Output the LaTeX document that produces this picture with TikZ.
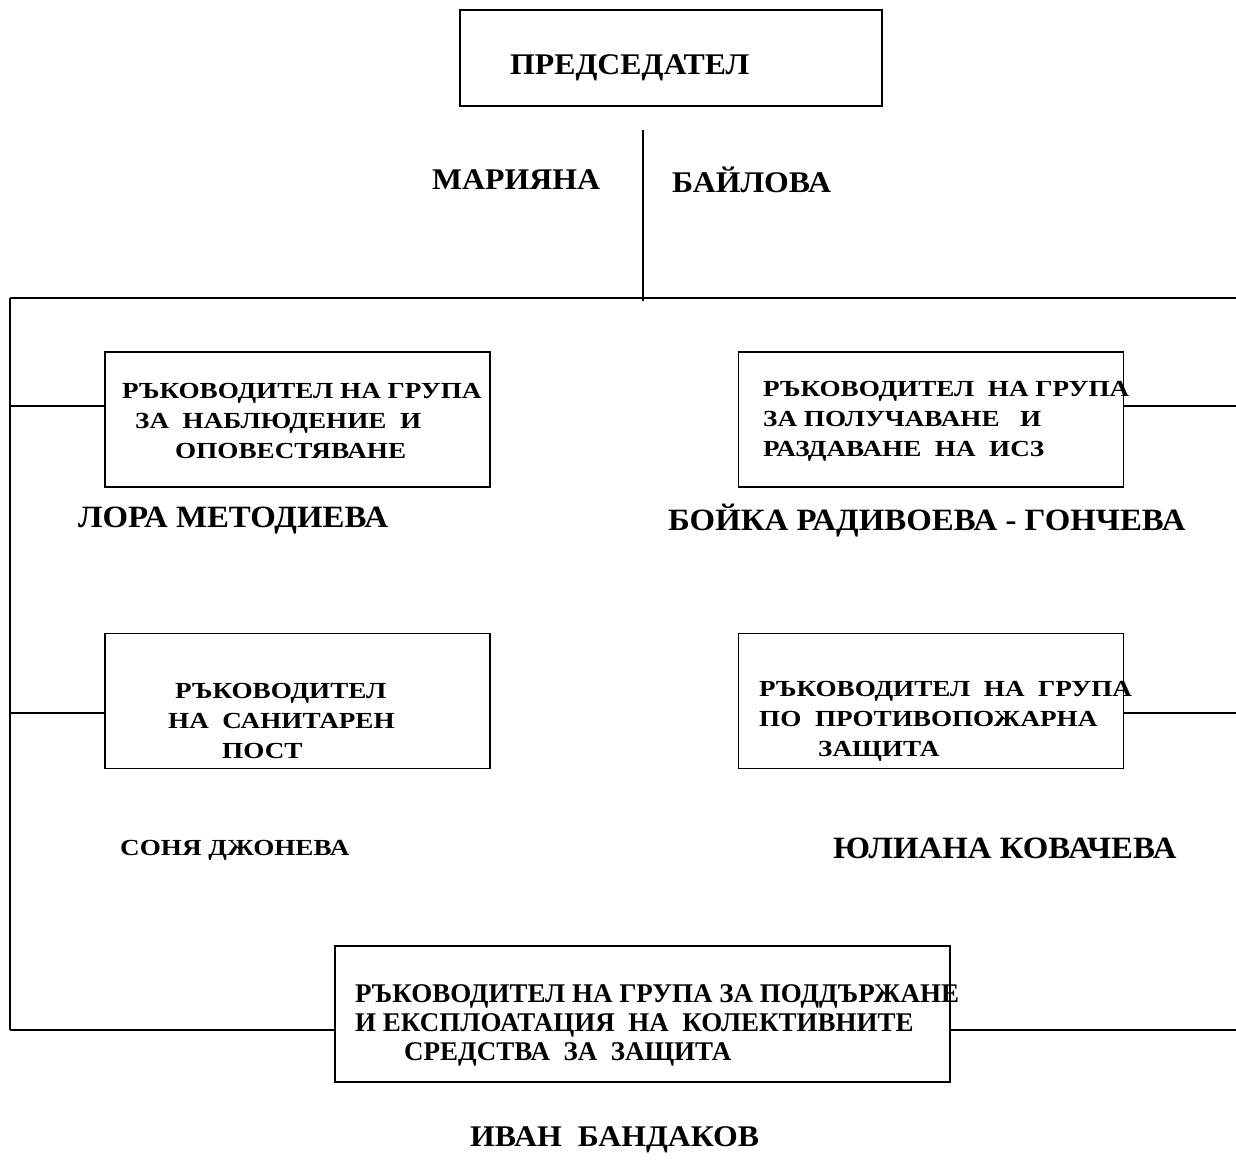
\documentclass[tikz,border=0pt]{standalone}
\usepackage{fontspec}
\setmainfont{Liberation Serif}
\newfontfamily\widefont{Liberation Serif}[FakeStretch=1.18]
\newfontfamily\namefont{Liberation Serif}[FakeStretch=1.06]
\usetikzlibrary{positioning}

\begin{document}
\begin{tikzpicture}[x=1pt,y=-1pt]
		\tikzstyle{box} = [draw, line width=1.8pt, minimum width=385pt, minimum height=135pt, inner sep=0]
		\tikzstyle{line} = [draw, line width=1.8pt]
		\tikzstyle{boxtext} = [anchor=west, inner sep=0, align=left, font=\fontsize{23}{30}\widefont\bfseries]
		\tikzstyle{person} = [anchor=west, inner sep=0, font=\fontsize{31}{33}\namefont\bfseries]
		\tikzstyle{smallperson} = [person, font=\fontsize{30}{33}\namefont\bfseries]
		\useasboundingbox (0,0) rectangle (1236,1163);
		% chairman
		\node [box, minimum width=422pt, minimum height=96pt] (chair) at (671,58) {};
		\node [smallperson] (chairText) at (510,68) {ПРЕДСЕДАТЕЛ};
		\node [smallperson] (chairFirst) at (432,180) {МАРИЯНА};
		\node [smallperson] (chairLast) at (672,180) {БАЙЛОВА};
		% groups
		\node [box] (grpNotify) at (297.5,419.5) {};
		\node [box] (grpIssue) at (931,419.5) {};
		\node [box] (grpSanitary) at (297.5,701) {};
		\node [box] (grpFire) at (931,701) {};
		\node [box, minimum width=615pt, minimum height=136pt] (grpShelter) at (642.5,1014) {};
		\node [boxtext] (txtNotify) at (122,421) {РЪКОВОДИТЕЛ НА ГРУПА\\\hspace*{13pt}ЗА\ \ НАБЛЮДЕНИЕ\ \ И\\\hspace*{53pt}ОПОВЕСТЯВАНЕ};
		\node [boxtext] (txtIssue) at (763,421) {РЪКОВОДИТЕЛ\ \ НА ГРУПА\\ЗА ПОЛУЧАВАНЕ\ \ \ И\\РАЗДАВАНЕ\ \ НА\ \ ИСЗ};
		\node [boxtext] (txtSanitary) at (168,721) {\hspace*{7pt}РЪКОВОДИТЕЛ\\НА\ \ САНИТАРЕН\\\hspace*{54pt}ПОСТ};
		\node [boxtext] (txtFire) at (759,721) {РЪКОВОДИТЕЛ\ \ НА\ \ ГРУПА\\ПО\ \ ПРОТИВОПОЖАРНА\\\hspace*{59pt}ЗАЩИТА};
		\node [boxtext, font=\fontsize{27}{29}\selectfont\bfseries] (txtShelter) at (355,1025) {РЪКОВОДИТЕЛ НА ГРУПА ЗА ПОДДЪРЖАНЕ\\И ЕКСПЛОАТАЦИЯ\ \ НА\ \ КОЛЕКТИВНИТЕ\\\hspace*{49pt}СРЕДСТВА\ \ ЗА\ \ ЗАЩИТА};
		% names
		\node [person] (nameNotify) at (78,521) {ЛОРА МЕТОДИЕВА};
		\node [person] (nameIssue) at (668,521) {БОЙКА РАДИВОЕВА - ГОНЧЕВА};
		\node [person, font=\fontsize{23}{25}\widefont\bfseries] (nameSanitary) at (120,850) {СОНЯ ДЖОНЕВА};
		\node [person] (nameFire) at (833,848) {ЮЛИАНА КОВАЧЕВА};
		\node [smallperson] (nameShelter) at (470,1140) {ИВАН\ \ БАНДАКОВ};
		% connectors
		\coordinate (trunkTop) at (643,130);
		\coordinate (trunkBot) at (643,301);
		\coordinate (busL) at (10,298);
		\coordinate (busR) at (1236,298);
		\coordinate (busLow) at (10,1030);
		\coordinate (edgeR) at (1236,0);
		\coordinate (rowA) at (0,406);
		\coordinate (rowB) at (0,713);
		\draw [line] (trunkTop) -- (trunkBot);
		\draw [line] (busL) -- (busR);
		\draw [line] (busL) -- (busLow);
		\draw [line] (busL |- rowA) -- (grpNotify.west |- rowA);
		\draw [line] (busL |- rowB) -- (grpSanitary.west |- rowB);
		\draw [line] (busLow) -- (busLow -| grpShelter.west);
		\draw [line] (grpIssue.east |- rowA) -- (edgeR |- rowA);
		\draw [line] (grpFire.east |- rowB) -- (edgeR |- rowB);
		\draw [line] (grpShelter.east |- busLow) -- (busLow -| edgeR);
\end{tikzpicture}
\end{document}
